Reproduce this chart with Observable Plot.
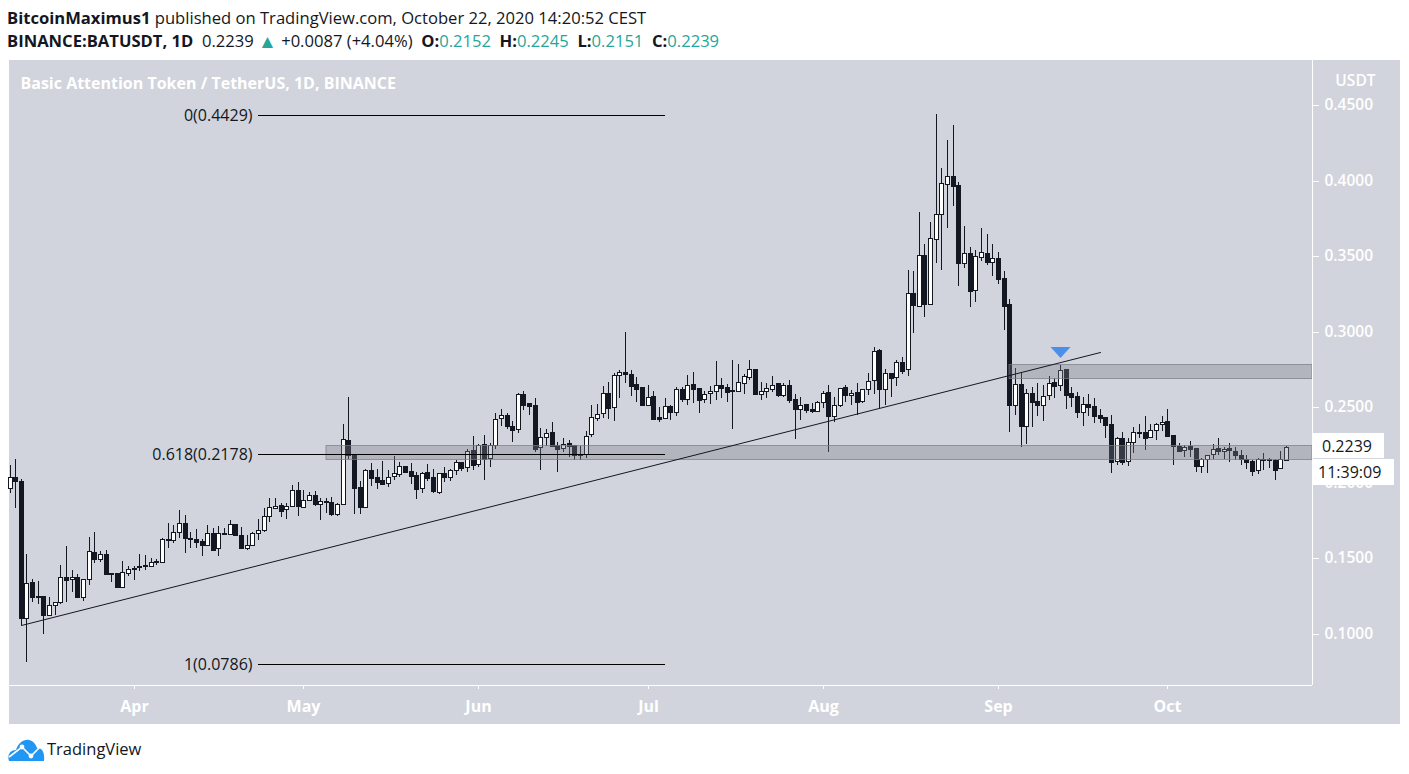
<!DOCTYPE html>
<html><head><meta charset="utf-8">
<script src="https://cdn.jsdelivr.net/npm/d3@7"></script>
<script src="https://cdn.jsdelivr.net/npm/@observablehq/plot@0.6"></script>
<style>
html,body{margin:0;padding:0;background:#fff;width:1409px;height:774px;overflow:hidden;position:relative;font-family:"Open Sans",sans-serif;color:#131722}
.hdr{position:absolute;left:7px;white-space:nowrap;font-size:16.6px;line-height:20px}
.hdr b{font-weight:700}
.g{color:#26a69a}
.tri{font-size:19px;line-height:0;vertical-align:-1px}
.wrap{position:absolute;left:9px;top:60px;width:1391px;height:664px}
.box{position:absolute;background:#fff;color:#131722;font-size:16px;line-height:26px;box-sizing:border-box;white-space:nowrap}
.brand{position:absolute;left:47px;top:738px;font-size:16.5px;line-height:22px;color:#131722}
svg.logo{position:absolute;left:8px;top:737px}
</style></head><body>
<div class="hdr" style="top:8px"><b>BitcoinMaximus1</b> published on TradingView.com, October 22, 2020 14:20:52 CEST</div>
<div class="hdr" style="top:31px"><b>BINANCE:BATUSDT, 1D</b>&nbsp; 0.2239 <span class="g tri">&#9650;</span> +0.0087 (+4.04%) &nbsp;<b>O:</b><span class="g">0.2152</span> &nbsp;<b>H:</b><span class="g">0.2245</span> &nbsp;<b>L:</b><span class="g">0.2151</span> &nbsp;<b>C:</b><span class="g">0.2239</span></div>
<div class="wrap" id="chart"></div>
<div class="box" style="left:1312px;top:433px;width:72px;height:25px;padding-left:10px">0.2239</div>
<div class="box" style="left:1312px;top:459px;width:82px;height:26px;padding-left:6px">11:39:09</div>
<svg class="logo" width="38" height="26" viewBox="0 0 38 26">
<path fill="#2196f3" d="M1 24 C-1 18 2 13 8 13 C10 6 16 2 21 3 C26 4 28 8 29 11 C34 11 37 15 36 24 Z"/>
<path fill="none" stroke="#fff" stroke-width="1.6" d="M1 20 L14 10 L23 19 L33 9"/>
<circle cx="14" cy="10" r="2.4" fill="#fff"/><circle cx="23" cy="19" r="2.4" fill="#fff"/>
</svg>
<div class="brand">TradingView</div>
<script>
// Daily candles from 10 Mar 2020 to 22 Oct 2020, in units of 0.0001 USDT.
const firstDay = Date.UTC(2020, 2, 10);
const unit = 1e-4;
const open = [
1965,2042,2013,1109,1343,1251,1251,1127,1191,1209,1376,1361,1376,1248,1363,1542,1493,1528,1405,1403,1314,1403,
1436,1449,1456,1453,1482,1475,1628,1621,1674,1733,1636,1628,1614,1592,1667,1568,1667,1661,1727,1656,1572,1592,1667,1685,1778,1833,1853,1826,1844,1952,
1839,1886,1919,1857,1879,1872,1795,1859,2282,2185,1971,1843,2086,2037,2017,1998,2044,2057,2110,2077,2053,1965,2070,2037,1938,2064,2042,2084,2137,2104,2216,
2123,2256,2163,2253,2428,2450,2375,2355,2586,2529,2516,2236,2302,2335,2249,2229,2262,2249,2190,2190,2320,2432,2461,2595,2505,2712,2732,2719,2652,2633,
2518,2573,2434,2428,2507,2472,2619,2558,2652,2626,2558,2593,2611,2646,2633,2615,2611,2663,2703,2752,2591,2611,2624,2659,2584,2646,2553,2491,2520,2487,2478,
2533,2600,2441,2518,2633,2584,2600,2540,2619,2679,2880,2624,2725,2699,2798,2752,3254,3168,3506,3186,3616,3777,3980,4030,3971,3457,3519,3274,3497,3519,3464,
3486,3353,3183,2515,2652,2379,2595,2540,2517,2584,2665,2650,2753,2592,2573,2471,2522,2506,2449,2434,2387,2143,2295,2143,2268,2339,2335,2306,2348,2388,
2410,2315,2247,2216,2242,2229,2112,2156,2189,2229,2209,2229,2209,2183,2159,2143,2084,2156,2154,2152,2095,2152];
const close = [
2042,2009,1109,1337,1242,1242,1127,1191,1211,1376,1354,1376,1248,1363,1548,1493,1528,1398,1398,1312,1407,1429,
1429,1440,1449,1473,1473,1628,1621,1674,1733,1632,1628,1606,1592,1667,1557,1667,1661,1727,1656,1570,1592,1667,1685,1778,1837,1850,1817,1844,1952,1844,
1886,1919,1857,1877,1872,1795,1859,2289,2181,1965,1843,2084,2035,2007,1995,2042,2062,2110,2075,2048,1962,2068,2035,1943,2062,2042,2084,2137,2101,2214,2121,
2249,2161,2253,2421,2452,2377,2351,2586,2518,2509,2227,2302,2333,2247,2225,2260,2247,2187,2188,2313,2434,2454,2593,2498,2712,2732,2719,2644,2624,2518,
2571,2425,2425,2507,2472,2619,2555,2650,2622,2549,2586,2606,2646,2628,2604,2611,2666,2705,2752,2588,2611,2630,2650,2582,2646,2549,2491,2518,2483,2478,2533,
2593,2439,2518,2626,2584,2597,2538,2624,2677,2875,2624,2725,2697,2798,2743,3255,3175,3506,3186,3618,3777,3982,4028,3966,3457,3519,3272,3499,3525,3464,3486,
3351,3173,2515,2652,2379,2592,2537,2515,2573,2663,2641,2745,2584,2570,2471,2520,2504,2445,2429,2383,2140,2295,2140,2268,2334,2332,2300,2348,2388,2401,
2313,2247,2214,2240,2223,2114,2156,2181,2227,2214,2227,2216,2181,2156,2141,2081,2156,2150,2150,2088,2161,2239];
const high = [
2119,2157,2024,1531,1365,1352,1251,1248,1211,1458,1584,1425,1398,1363,1641,1676,1546,1555,1405,1403,1484,1453,
1453,1526,1520,1502,1495,1634,1733,1722,1822,1789,1678,1696,1628,1722,1700,1716,1700,1755,1727,1707,1656,1678,1762,1833,1899,1899,1866,1866,1987,2007,
1950,1941,1947,1903,1899,1905,1866,2390,2569,2185,2013,2090,2130,2093,2145,2086,2178,2139,2110,2130,2070,2075,2123,2090,2068,2104,2090,2152,2137,2223,2309,
2258,2317,2262,2461,2489,2461,2408,2595,2608,2529,2560,2362,2357,2401,2267,2298,2284,2253,2245,2342,2516,2522,2642,2670,2725,2747,2996,2747,2703,2637,
2648,2608,2500,2560,2516,2637,2637,2714,2734,2626,2608,2644,2807,2692,2652,2813,2787,2719,2813,2756,2670,2659,2708,2663,2659,2681,2588,2566,2520,2527,2542,
2611,2648,2566,2626,2648,2615,2659,2624,2725,2897,2886,2752,2725,2813,2831,3409,3402,3792,3578,3726,4440,4081,4268,4368,3988,3700,3558,3541,3684,3644,3578,
3528,3400,3216,2758,2725,2619,2632,2659,2648,2707,2692,2780,2753,2637,2599,2566,2588,2559,2487,2434,2449,2306,2334,2295,2368,2388,2439,2388,2395,2443,
2489,2315,2262,2251,2278,2229,2163,2181,2258,2295,2240,2262,2240,2218,2183,2148,2163,2196,2163,2159,2211,2245];
const low = [
1936,1833,1059,812,1209,1200,997,1116,1127,1200,1209,1275,1242,1215,1326,1469,1473,1392,1341,1308,1308,1381,
1359,1420,1425,1440,1458,1469,1570,1601,1634,1539,1568,1568,1513,1583,1553,1517,1656,1656,1652,1564,1557,1592,1623,1678,1744,1826,1771,1764,1839,1782,
1839,1877,1848,1756,1800,1782,1782,1859,2156,1793,1793,1837,1982,1962,1984,1973,2022,2042,2075,1993,1890,1932,2015,1936,1923,2007,2015,2055,2081,2075,2086,
2104,2020,2108,2227,2377,2359,2273,2333,2483,2452,2201,2082,2245,2240,2075,2205,2174,2152,2148,2167,2306,2412,2430,2425,2412,2564,2659,2575,2538,2511,
2509,2425,2405,2421,2416,2443,2538,2516,2531,2465,2527,2522,2549,2560,2538,2359,2611,2588,2681,2588,2549,2560,2604,2566,2571,2531,2293,2416,2465,2465,2469,
2496,2207,2405,2505,2538,2516,2450,2527,2582,2588,2494,2516,2571,2641,2721,2708,2994,3168,3098,3186,3455,3409,3689,3832,3303,3424,3166,3199,3470,3442,3369,
3316,3012,2339,2449,2240,2257,2372,2443,2412,2548,2564,2608,2491,2504,2429,2376,2443,2398,2398,2297,2068,2118,2118,2114,2200,2295,2218,2295,2284,2346,
2313,2119,2205,2174,2174,2075,2064,2064,2156,2181,2159,2141,2148,2121,2092,2048,2059,2086,2097,2020,2090,2151];

const priceTicks = [0.10,0.15,0.20,0.25,0.30,0.35,0.40,0.45];
const monthTicks = ["2020-04-01","2020-05-01","2020-06-01","2020-07-01","2020-08-01","2020-09-01","2020-10-01"].map(d => new Date(d));
const fibLabels = ["0(0.4429)","0.618(0.2178)","1(0.0786)"];
const fibPrices = [0.4435,0.2191,0.0803];   // where the lines sit in the picture
const fibStart = new Date("2020-04-23"), fibEnd = new Date("2020-07-04");
const trendDates = [new Date("2020-03-12"), new Date("2020-09-19")];
const trendPrices = [0.1061, 0.2866];
const zoneStarts = [new Date("2020-05-05"), new Date("2020-09-03")];
const zoneLows = [0.2156, 0.2693];
const zoneHighs = [0.2249, 0.2785];
const markerDate = new Date("2020-09-12"), markerPrice = 0.2864;

const xStart = new Date(Date.UTC(2020,2,9,21,50)), xEnd = new Date(xStart.getTime() + 230.7*864e5);
const candles = open.map((o,i)=>({date:new Date(firstDay+i*864e5),o:o*unit,c:close[i]*unit,h:high[i]*unit,l:low[i]*unit,up:close[i]>=o}));
const zones = zoneStarts.map((s,i)=>({x1:s,x2:xEnd,y1:zoneLows[i],y2:zoneHighs[i]}));
const fibs = fibLabels.map((t,i)=>({t,y:fibPrices[i]}));
const inkColor = "#131722";
const minBody = 8*unit; // a doji still shows as a thin bar
const bodyTop = d => Math.max(d.o, d.c, (d.o+d.c+minBody)/2);
const bodyBottom = d => Math.min(d.o, d.c, (d.o+d.c-minBody)/2);
const wideTriangle = {draw(c){c.moveTo(-10,-5.5);c.lineTo(10,-5.5);c.lineTo(0,5.5);c.closePath();}};

const chart = Plot.plot({
  width:1391,height:664,marginLeft:0,marginRight:88,marginTop:0,marginBottom:39,
  style:{background:"#d1d4dc",fontFamily:'"Open Sans",sans-serif',overflow:"visible"},
  x:{type:"utc",domain:[xStart,xEnd],round:true},
  y:{domain:[0.06625,0.47977],round:true},
  marks:[
    Plot.ruleX(candles,{x:"date",y1:"l",y2:"h",stroke:inkColor,strokeWidth:1}),
    Plot.rect(candles,{x1:"date",x2:"date",y1:bodyBottom,y2:bodyTop,insetLeft:-1.5,insetRight:-2.5,insetTop:0.5,insetBottom:-0.5,
      fill:d=>d.up?"#ffffff":inkColor,stroke:inkColor,strokeWidth:1}),
    Plot.rect(zones,{x1:"x1",x2:"x2",y1:"y1",y2:"y2",insetTop:0.5,insetBottom:-0.5,fill:"#787b86",fillOpacity:0.35,stroke:"#787b86",strokeOpacity:0.7,strokeWidth:1}),
    Plot.line(trendDates.map((d,i)=>({d,p:trendPrices[i]})),{x:"d",y:"p",stroke:inkColor,strokeWidth:1}),
    Plot.ruleY(fibs,{y:"y",x1:fibStart,x2:fibEnd,stroke:"#000",strokeWidth:1}),
    Plot.text(fibs,{x:fibStart,y:"y",text:"t",textAnchor:"end",dx:-6,fill:inkColor,fontSize:16}),
    Plot.dot([{d:markerDate,p:markerPrice}],{x:"d",y:"p",symbol:wideTriangle,r:5,fill:"#4a90e8",stroke:"none"}),
    Plot.ruleX([xEnd],{stroke:"#fff",strokeWidth:1}),
    Plot.ruleY([0.06625],{stroke:"#fff",strokeWidth:1,x1:xStart,x2:xEnd}),
    Plot.axisY(priceTicks,{anchor:"right",label:null,tickSize:6,tickPadding:6,tickFormat:".4f",color:"#fff",fontSize:15.5,fontWeight:600}),
    Plot.axisX(monthTicks,{label:null,tickSize:4,tickPadding:11,tickFormat:d3.utcFormat("%b"),color:"#fff",fontSize:16,fontWeight:700}),
    Plot.text(["Basic Attention Token / TetherUS, 1D, BINANCE"],{frameAnchor:"top-left",dx:11,dy:17,fill:"#fff",fontSize:16,fontWeight:700,textAnchor:"start"}),
    Plot.text(["USDT"],{frameAnchor:"top-right",dx:63,dy:14,fill:"#fff",fontSize:15.5,fontWeight:600,textAnchor:"end"})
  ]
});
document.getElementById("chart").append(chart);
</script>
</body></html>
